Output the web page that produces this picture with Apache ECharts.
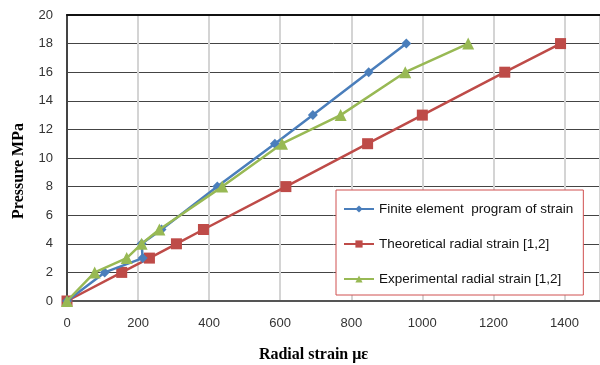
<!DOCTYPE html>
<html>
<head>
<meta charset="utf-8">
<script src="https://cdn.jsdelivr.net/npm/echarts@6/dist/echarts.min.js"></script>
<style>
  html, body { margin: 0; padding: 0; background: #fff; }
  #chart { width: 600px; height: 365px; }
</style>
</head>
<body>
<div id="chart"></div>
<script>
// data (x: radial strain, y: pressure MPa)
const feStrain = [0, 106, 213, 210, 266, 423, 585, 692, 849, 955]
const fePressure = [0, 2, 3, 4, 5, 8, 11, 13, 16, 18]

const theoStrain = [0, 154, 232, 308, 384, 616, 846, 1000, 1232, 1389]
const theoPressure = [0, 2, 3, 4, 5, 8, 11, 13, 16, 18]

const expStrain = [0, 78, 168, 210, 260, 437, 605, 770, 952, 1129]
const expPressure = [0, 2, 3, 4, 5, 8, 11, 13, 16, 18]

const seriesNames = [
  'Finite element  program of strain',
  'Theoretical radial strain [1,2]',
  'Experimental radial strain [1,2]'
]
const colors = ['#4a7ebb', '#be4b48', '#98b954']

const zip = (xs, ys) => xs.map((x, i) => [x, ys[i]])

const chart = echarts.init(document.getElementById('chart'))

const labelFont = 'Liberation Sans Narrow, Liberation Sans, sans-serif'

const option = {
  animation: false,
  backgroundColor: '#fff',
  grid: { left: 67, right: 0, top: 15, bottom: 64, outerBoundsMode: 'none' },
  legend: {
    orient: 'vertical',
    left: 336,
    top: 190,
    padding: [12, 10, 9, 7],
    itemGap: 21,
    itemWidth: 30,
    itemHeight: 9,
    borderColor: '#d05050',
    borderWidth: 1,
    backgroundColor: '#fff',
    textStyle: { fontFamily: labelFont, fontSize: 13.5, color: '#111' },
    data: seriesNames
  },
  xAxis: [
    {
      type: 'value',
      min: 0,
      max: 1500,
      interval: 200,
      name: 'Radial strain με',
      nameLocation: 'middle',
      nameGap: 46,
      nameTextStyle: { fontFamily: 'Liberation Serif, serif', fontWeight: 'bold', fontSize: 16, color: '#000', padding: [0, 40, 0, 0] },
      axisLine: { show: true, lineStyle: { color: '#555', width: 2 } },
      axisTick: { show: false },
      axisLabel: {
        margin: 16,
        fontFamily: labelFont,
        fontSize: 13,
        color: '#333',
        formatter: v => (v % 200 === 0 ? String(v) : '')
      },
      splitLine: { show: true, lineStyle: { color: '#d4d4d4', width: 2 } }
    },
    {
      type: 'value',
      position: 'top',
      min: 0,
      max: 1500,
      axisLine: { show: true, lineStyle: { color: '#111', width: 2 } },
      axisTick: { show: false },
      axisLabel: { show: false },
      splitLine: { show: false }
    }
  ],
  yAxis: {
    type: 'value',
    min: 0,
    max: 20,
    interval: 2,
    name: 'Pressure MPa',
    nameLocation: 'middle',
    nameGap: 40,
    nameTextStyle: { fontFamily: 'Liberation Serif, serif', fontWeight: 'bold', fontSize: 16, color: '#000', padding: [0, 26, 0, 0] },
    axisLine: { show: true, lineStyle: { color: '#444', width: 2 } },
    axisTick: { show: false },
    axisLabel: { margin: 14, fontFamily: labelFont, fontSize: 13, color: '#333' },
    splitLine: { show: true, lineStyle: { color: '#444', width: 1 } }
  },
  series: [
    {
      name: seriesNames[0],
      type: 'line',
      data: zip(feStrain, fePressure),
      symbol: 'diamond',
      symbolSize: 10,
      z: 4,
      lineStyle: { color: colors[0], width: 2.5 },
      itemStyle: { color: colors[0] }
    },
    {
      name: seriesNames[1],
      type: 'line',
      data: zip(theoStrain, theoPressure),
      symbol: 'rect',
      symbolSize: 11,
      z: 3,
      lineStyle: { color: colors[1], width: 2.5 },
      itemStyle: { color: colors[1] }
    },
    {
      name: seriesNames[2],
      type: 'line',
      data: zip(expStrain, expPressure),
      symbol: 'triangle',
      symbolSize: 12,
      z: 5,
      lineStyle: { color: colors[2], width: 2.5 },
      itemStyle: { color: colors[2] }
    }
  ]
}

chart.setOption(option)
</script>
</body>
</html>
